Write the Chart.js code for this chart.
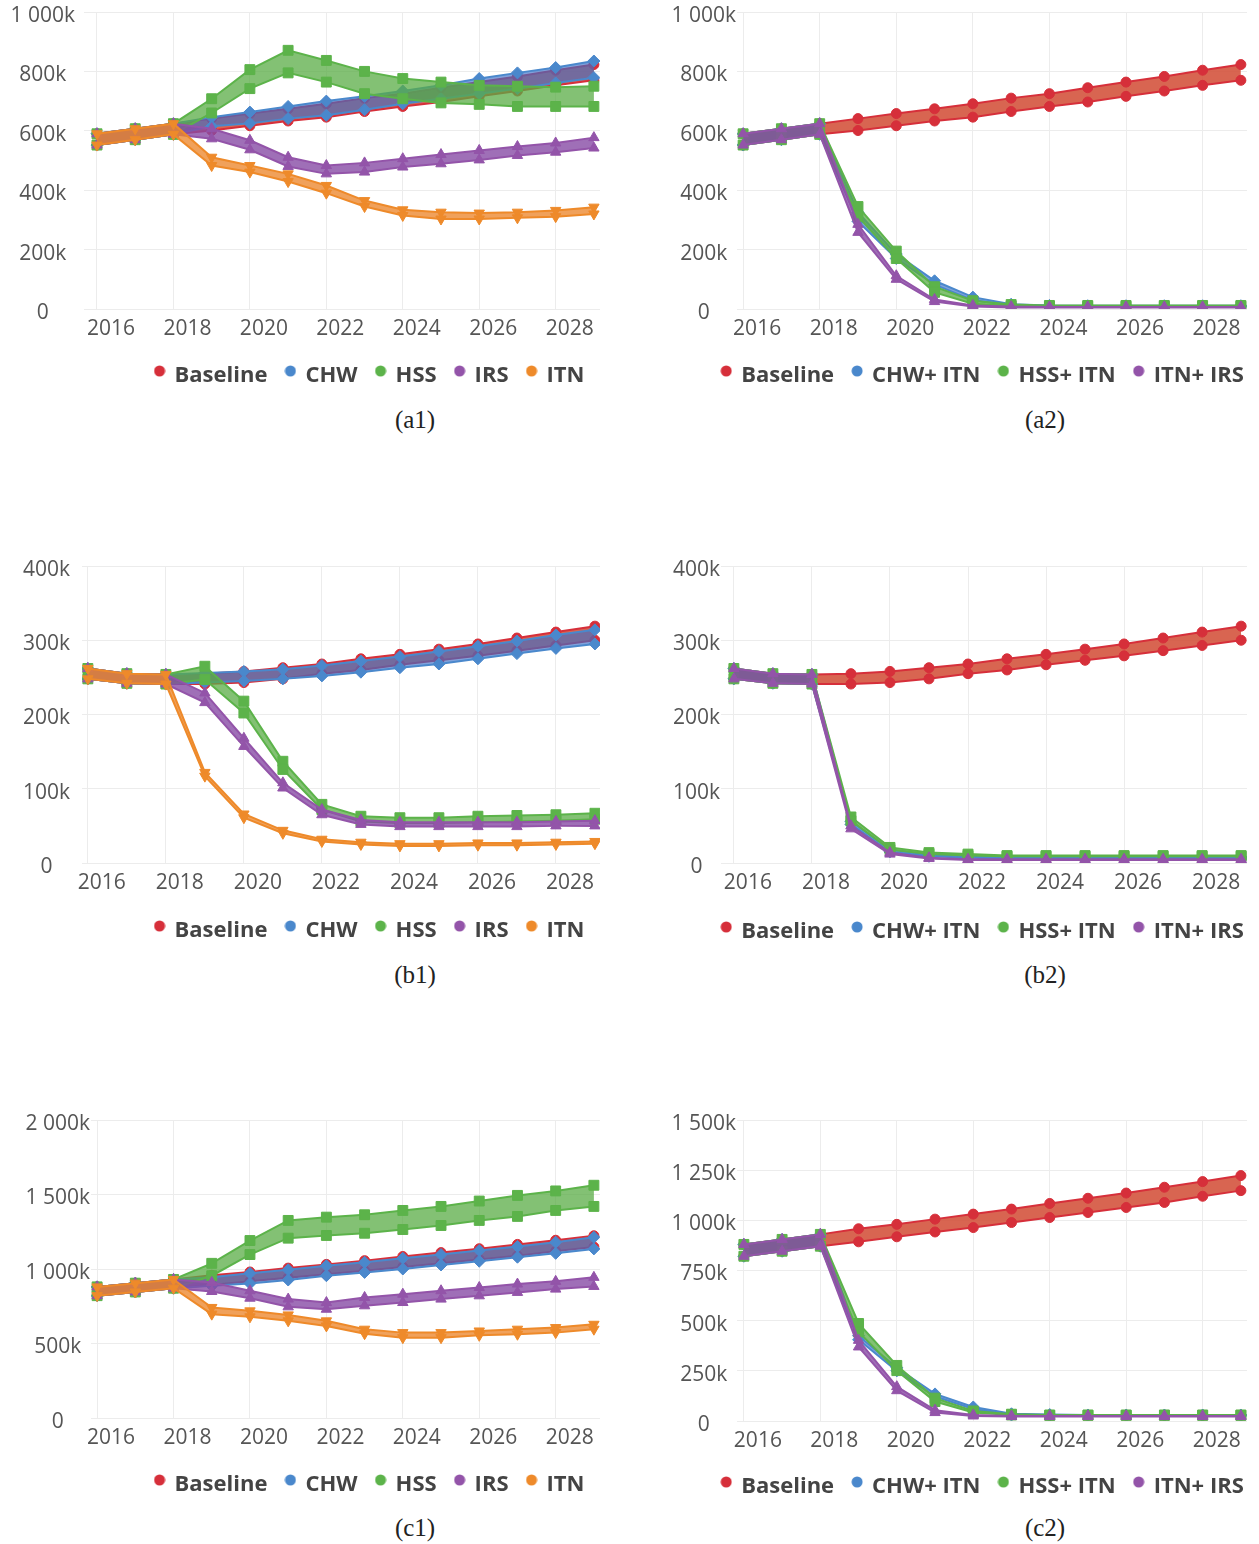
<!DOCTYPE html>
<html><head><meta charset="utf-8">
<script src="https://cdn.jsdelivr.net/npm/chart.js@4.4.1/dist/chart.umd.min.js"></script>
<style>
html,body{margin:0;padding:0;background:#fff;width:1259px;height:1544px;overflow:hidden;position:relative}
canvas{position:absolute}
.cap{position:absolute;font-family:"Liberation Serif","DejaVu Serif",serif;font-size:25px;color:#222;transform:translate(-50%,-50%);white-space:nowrap}
</style></head><body>
<div class="cap" style="left:415px;top:420px">(a1)</div>
<div class="cap" style="left:1045px;top:420px">(a2)</div>
<div class="cap" style="left:415px;top:975px">(b1)</div>
<div class="cap" style="left:1045px;top:975px">(b2)</div>
<div class="cap" style="left:415px;top:1528px">(c1)</div>
<div class="cap" style="left:1045px;top:1528px">(c2)</div>
<script>
// ---------- data (values in thousands) ----------
const years = [2016,2017,2018,2019,2020,2021,2022,2023,2024,2025,2026,2027,2028,2029];
const xTickYears = [2016,2018,2020,2022,2024,2026,2028];
const yTicksA = [0,200,400,600,800,1000];
const yTicksB = [0,100,200,300,400];
const yTicksC1 = [0,500,1000,1500,2000];
const yTicksC2 = [0,250,500,750,1000,1250,1500];

// Row a
const baseA_hi = [590,607,624,641,658,674,691,710,725,745,764,783,804,823];
const baseA_lo = [552,570,588,601,617,633,646,665,682,697,716,734,753,770];
const chwA_hi  = [590,607,624,646,663,682,700,716,734,753,776,795,813,835];
const chwA_lo  = [552,570,588,615,625,641,652,671,691,708,725,742,761,779];
const hssA_hi  = [590,607,624,708,806,871,837,800,776,764,753,750,747,750];
const hssA_lo  = [552,570,588,660,742,795,764,725,708,694,689,682,682,682];
const irsA_hi  = [590,607,624,607,568,511,483,492,506,520,534,547,559,577];
const irsA_lo  = [552,570,588,573,536,480,455,461,478,489,502,517,528,542];
const itnA_hi  = [590,607,624,511,483,455,416,365,334,326,323,326,332,343];
const itnA_lo  = [552,570,588,483,461,429,390,345,315,303,303,307,311,320];
const chwItnA_hi = [590,607,624,325,185,95,40,16,12,11,11,11,11,11];
const chwItnA_lo = [552,570,588,295,170,82,30,12,9,8,8,8,8,8];
const hssItnA_hi = [590,607,624,345,195,75,28,15,12,12,12,12,12,12];
const hssItnA_lo = [552,570,588,312,170,56,18,10,9,9,9,9,9,9];
const itnIrsA_hi = [590,607,624,285,112,32,12,8,7,7,7,7,7,7];
const itnIrsA_lo = [552,570,588,258,100,25,8,5,5,5,5,5,5,5];

// Row b
const baseB_hi = [262,255,254,255,258,263,268,275,281,288,295,303,311,319];
const baseB_lo = [248,242,241,241,243,248,255,260,267,273,279,286,293,300];
const chwB_hi  = [262,255,254,256,258,261,266,272,278,285,292,299,307,314];
const chwB_lo  = [248,242,241,243,245,248,252,257,263,268,275,282,289,295];
const hssB_hi  = [262,255,254,265,218,137,79,63,61,61,63,64,65,67];
const hssB_lo  = [248,242,241,247,202,126,72,56,54,54,55,56,57,59];
const irsB_hi  = [262,255,254,229,168,108,72,58,55,55,55,55,56,57];
const irsB_lo  = [248,242,241,216,157,101,65,52,49,49,49,49,50,50];
const itnB_hi  = [262,255,254,122,66,44,32,28,26,26,27,27,28,29];
const itnB_lo  = [248,242,241,117,61,40,29,25,23,23,24,24,25,26];
const chwItnB_hi = [262,255,254,56,18,11,9,8,8,8,8,8,8,8];
const chwItnB_lo = [248,242,241,52,15,9,7,6,6,6,6,6,6,6];
const hssItnB_hi = [262,255,254,62,21,14,12,10,10,10,10,10,10,10];
const hssItnB_lo = [248,242,241,57,18,12,10,9,9,9,9,9,9,9];
const itnIrsB_hi = [262,255,254,50,14,7,5,5,5,5,5,5,5,5];
const itnIrsB_lo = [248,242,241,46,12,6,4,4,4,4,4,4,4,4];

// Row c
const baseC_hi = [880,905,930,958,980,1006,1031,1056,1084,1110,1136,1165,1193,1223];
const baseC_lo = [821,846,871,893,918,942,964,989,1014,1039,1064,1089,1120,1148];
const chwC_hi  = [880,905,930,944,971,995,1022,1045,1072,1097,1124,1151,1180,1213];
const chwC_lo  = [821,846,871,888,903,926,955,977,1000,1027,1052,1079,1105,1135];
const hssC_hi  = [880,905,930,1038,1191,1326,1348,1364,1393,1420,1456,1494,1524,1562];
const hssC_lo  = [821,846,871,955,1097,1207,1225,1240,1265,1292,1326,1353,1393,1420];
const irsC_hi  = [880,905,930,910,854,798,775,809,831,854,876,899,917,944];
const irsC_lo  = [821,846,871,849,804,746,730,753,775,798,820,843,865,883];
const itnC_hi  = [880,905,930,742,719,692,652,596,573,573,584,596,607,629];
const itnC_lo  = [821,846,871,697,679,652,618,566,539,539,555,562,573,596];
const chwItnC_hi = [880,905,930,425,265,135,70,36,32,30,30,30,30,30];
const chwItnC_lo = [821,846,871,405,250,122,60,30,28,27,27,27,27,27];
const hssItnC_hi = [880,905,930,486,277,114,50,34,30,30,30,30,30,30];
const hssItnC_lo = [821,846,871,444,251,97,42,30,28,28,28,28,28,28];
const itnIrsC_hi = [880,905,930,402,171,54,30,25,25,25,25,25,25,25];
const itnIrsC_lo = [821,846,871,369,151,42,25,22,22,22,22,22,22,22];

// ---------- styles ----------
const STYLE = {
  red:    {line:'#d62f3a', fill:'rgba(212,84,62,0.9)',  marker:'circle',   rot:0,   r:5},
  blue:   {line:'#4a88cc', fill:'rgba(60,110,200,0.65)', marker:'rectRot',  rot:0,   r:6},
  green:  {line:'#5cb34a', fill:'rgba(90,172,70,0.75)',  marker:'rect',     rot:0,   r:7},
  purple: {line:'#9354a9', fill:'rgba(135,75,165,0.8)',  marker:'triangle', rot:0,   r:6},
  orange: {line:'#ee8a2a', fill:'rgba(236,135,45,0.78)', marker:'triangle', rot:180, r:6}
};

const PANELS = {
  a1:{left:0,   top:0,    w:740, h:397, padTop:12, xh:37, yw:84,  rw:140, xmin:2015.66, xmax:2029.16, ymax:1000, ypad:9,  yticks:yTicksA},
  a2:{left:620, top:0,    w:726, h:397, padTop:12, xh:37, yw:117, rw:99,  xmin:2015.84, xmax:2029.16, ymax:1000, ypad:1,  yticks:yTicksA},
  b1:{left:0,   top:555,  w:740, h:397, padTop:11, xh:38, yw:82,  rw:140, xmin:2015.85, xmax:2029.13, ymax:400,  ypad:12, yticks:yTicksB},
  b2:{left:620, top:555,  w:726, h:398, padTop:11, xh:39, yw:101, rw:99,  xmin:2015.67, xmax:2029.15, ymax:400,  ypad:1,  yticks:yTicksB},
  c1:{left:0,   top:1110, w:740, h:396, padTop:10, xh:37, yw:91,  rw:140, xmin:2015.84, xmax:2029.16, ymax:2000, ypad:1,  yticks:yTicksC1},
  c2:{left:620, top:1110, w:726, h:398, padTop:10, xh:36, yw:117, rw:99,  xmin:2015.82, xmax:2029.16, ymax:1500, ypad:1,  yticks:yTicksC2}
};

function fmtK(v){
  if (v === 0) return '0';
  if (v >= 1000) return Math.floor(v/1000) + ' ' + String(v % 1000).padStart(3,'0') + 'k';
  return v + 'k';
}

const FONT = '"Open Sans", "DejaVu Sans", sans-serif';

// legend dot raised above the text centre (superscript-like, as in the reference)
const dotCache = {};
function legendDot(color){
  if (dotCache[color]) return dotCache[color];
  const c = document.createElement('canvas');
  c.width = 12; c.height = 22;
  const g = c.getContext('2d');
  g.fillStyle = color;
  g.beginPath(); g.arc(6, 6, 5.5, 0, Math.PI*2); g.fill();
  dotCache[color] = c;
  return c;
}

function makePanel(cfg, series){
  const cv = document.createElement('canvas');
  cv.width = cfg.w; cv.height = cfg.h;
  cv.style.left = cfg.left + 'px'; cv.style.top = cfg.top + 'px';
  cv.style.width = cfg.w + 'px'; cv.style.height = cfg.h + 'px';
  document.body.appendChild(cv);
  const n = series.length;
  const datasets = [];
  series.forEach((s, i) => {
    const st = STYLE[s.style];
    const common = {
      borderColor: st.line, backgroundColor: st.line,
      pointBackgroundColor: st.line, pointBorderColor: st.line,
      pointStyle: st.marker, pointRotation: st.rot, pointRadius: st.r,
      pointBorderWidth: 1, borderWidth: 2, tension: 0
    };
    datasets.push(Object.assign({}, common, {
      label: s.name,
      data: years.map((x, k) => ({x: x, y: s.hi[k]})),
      fill: {target: '+1', above: st.fill, below: st.fill},
      order: 2*(n - i)
    }));
    datasets.push(Object.assign({}, common, {
      label: s.name + ' (lower)',
      data: years.map((x, k) => ({x: x, y: s.lo[k]})),
      fill: false,
      order: 2*(n - i) - 1
    }));
  });
  new Chart(cv, {
    type: 'line',
    data: {datasets},
    options: {
      responsive: false, animation: false, devicePixelRatio: 1,
      layout: {padding: {top: cfg.padTop, left: 0, right: 0, bottom: 0}},
      plugins: {
        tooltip: {enabled: false},
        legend: {
          position: 'bottom', align: 'center',
          labels: {
            usePointStyle: true, boxWidth: 8, boxHeight: 8,
            padding: 19, color: '#444',
            font: {family: FONT, size: 22, weight: 'bold'},
            generateLabels: (chart) => {
              const items = Chart.defaults.plugins.legend.labels.generateLabels(chart);
              items.forEach(it => {
                const ds = chart.data.datasets[it.datasetIndex];
                it.pointStyle = legendDot(ds.borderColor);
                it.rotation = 0;
              });
              return items;
            },
            filter: (it) => it.datasetIndex % 2 === 0,
            sort: (a, b) => a.datasetIndex - b.datasetIndex
          }
        }
      },
      scales: {
        x: {
          type: 'linear', min: cfg.xmin, max: cfg.xmax,
          afterBuildTicks: (s) => { s.ticks = xTickYears.map(v => ({value: v})); },
          afterFit: (s) => { s.height = cfg.xh; s.paddingLeft = 0; s.paddingRight = 0; },
          grid: {color: '#ececec', drawTicks: false},
          border: {display: false},
          ticks: {padding: 7, labelOffset: 14, color: '#555', autoSkip: false, maxRotation: 0,
                  font: {family: FONT, size: 21}, callback: (v) => String(v)}
        },
        y: {
          type: 'linear', min: 0, max: cfg.ymax,
          afterBuildTicks: (s) => { s.ticks = cfg.yticks.map(v => ({value: v})); },
          afterFit: (s) => { s.width = cfg.yw; s.paddingTop = 0; s.paddingBottom = 0; },
          grid: {color: '#ececec', drawTicks: false},
          border: {display: false},
          ticks: {padding: cfg.ypad, crossAlign: 'center', labelOffset: 4, color: '#555',
                  font: {family: FONT, size: 21}, callback: (v) => fmtK(v)}
        },
        yR: {
          position: 'right', display: true,
          afterFit: (s) => { s.width = cfg.rw; s.paddingTop = 0; s.paddingBottom = 0; },
          grid: {display: false, drawTicks: false}, border: {display: false},
          ticks: {display: false}
        }
      }
    }
  });
}

makePanel(PANELS.a1, [
  {name:'Baseline', hi:baseA_hi, lo:baseA_lo, style:'red'},
  {name:'CHW', hi:chwA_hi, lo:chwA_lo, style:'blue'},
  {name:'HSS', hi:hssA_hi, lo:hssA_lo, style:'green'},
  {name:'IRS', hi:irsA_hi, lo:irsA_lo, style:'purple'},
  {name:'ITN', hi:itnA_hi, lo:itnA_lo, style:'orange'}
]);
makePanel(PANELS.a2, [
  {name:'Baseline', hi:baseA_hi, lo:baseA_lo, style:'red'},
  {name:'CHW+ ITN', hi:chwItnA_hi, lo:chwItnA_lo, style:'blue'},
  {name:'HSS+ ITN', hi:hssItnA_hi, lo:hssItnA_lo, style:'green'},
  {name:'ITN+ IRS', hi:itnIrsA_hi, lo:itnIrsA_lo, style:'purple'}
]);
makePanel(PANELS.b1, [
  {name:'Baseline', hi:baseB_hi, lo:baseB_lo, style:'red'},
  {name:'CHW', hi:chwB_hi, lo:chwB_lo, style:'blue'},
  {name:'HSS', hi:hssB_hi, lo:hssB_lo, style:'green'},
  {name:'IRS', hi:irsB_hi, lo:irsB_lo, style:'purple'},
  {name:'ITN', hi:itnB_hi, lo:itnB_lo, style:'orange'}
]);
makePanel(PANELS.b2, [
  {name:'Baseline', hi:baseB_hi, lo:baseB_lo, style:'red'},
  {name:'CHW+ ITN', hi:chwItnB_hi, lo:chwItnB_lo, style:'blue'},
  {name:'HSS+ ITN', hi:hssItnB_hi, lo:hssItnB_lo, style:'green'},
  {name:'ITN+ IRS', hi:itnIrsB_hi, lo:itnIrsB_lo, style:'purple'}
]);
makePanel(PANELS.c1, [
  {name:'Baseline', hi:baseC_hi, lo:baseC_lo, style:'red'},
  {name:'CHW', hi:chwC_hi, lo:chwC_lo, style:'blue'},
  {name:'HSS', hi:hssC_hi, lo:hssC_lo, style:'green'},
  {name:'IRS', hi:irsC_hi, lo:irsC_lo, style:'purple'},
  {name:'ITN', hi:itnC_hi, lo:itnC_lo, style:'orange'}
]);
makePanel(PANELS.c2, [
  {name:'Baseline', hi:baseC_hi, lo:baseC_lo, style:'red'},
  {name:'CHW+ ITN', hi:chwItnC_hi, lo:chwItnC_lo, style:'blue'},
  {name:'HSS+ ITN', hi:hssItnC_hi, lo:hssItnC_lo, style:'green'},
  {name:'ITN+ IRS', hi:itnIrsC_hi, lo:itnIrsC_lo, style:'purple'}
]);
</script>
</body></html>
